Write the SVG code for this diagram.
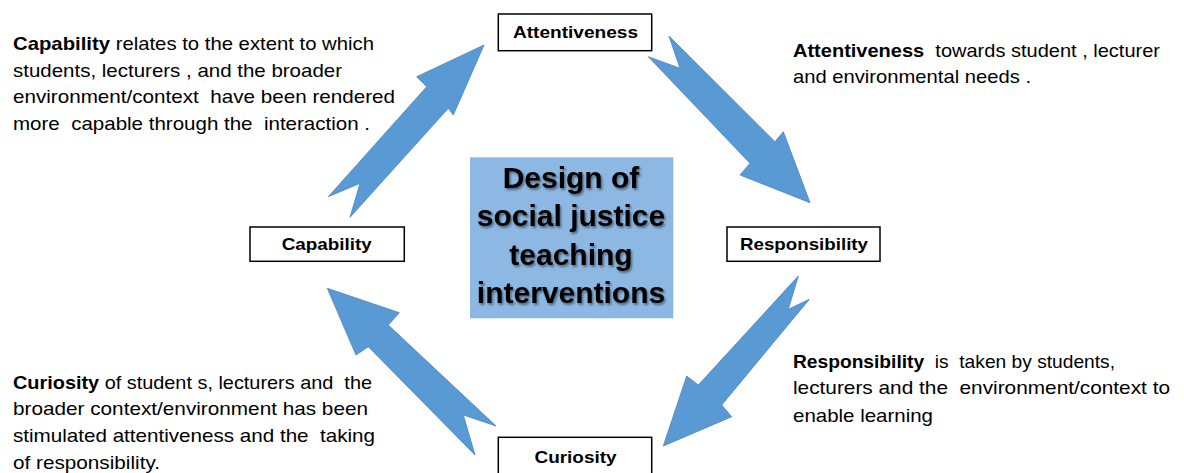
<svg xmlns="http://www.w3.org/2000/svg" width="1184" height="473" viewBox="0 0 1184 473">
  <style>
    .box { fill: #ffffff; stroke: #000000; stroke-width: 1.5; }
    .lbl { font-family: "Liberation Sans", Arial, sans-serif; font-weight: bold; font-size: 17px; fill: #000000; text-anchor: middle; }
    .note { font-family: "Liberation Sans", Arial, sans-serif; font-size: 19px; fill: #000000; white-space: pre; }
    .note .b { font-weight: bold; }
    .arrow { fill: #5A9AD4; stroke: #4A82BE; stroke-width: 0.8; stroke-linejoin: miter; }
    .center { fill: #8DB8E3; }
    .ctext { font-family: "Liberation Sans", Arial, sans-serif; font-weight: bold; font-size: 30px; fill: #000000; text-anchor: middle; }
  </style>
  <defs>
    <filter id="shadow" x="-10%" y="-20%" width="130%" height="150%">
      <feDropShadow dx="1.5" dy="2" stdDeviation="1.2" flood-color="#000000" flood-opacity="0.45"/>
    </filter>
  </defs>
  <rect width="1184" height="473" fill="#ffffff"/>

  <g id="connectors">
    <polygon class="arrow" points="328.3,196.7 426.7,86.7 416.7,76.7 484,45 453.3,115 448.3,108.3 350,217.3 360,183.3"/>
    <polygon class="arrow" points="669,36 775,141.7 783.3,131.7 810,202.7 740,175 750,163.3 648.3,56.7 680,68.3"/>
    <polygon class="arrow" points="798.3,276 788.3,309.3 809.3,299.3 721.7,405 731.7,416.7 663.3,446 686.7,376 698.3,385"/>
    <polygon class="arrow" points="327.3,288.3 399.3,312.7 388.3,325 496,426 463.3,415 475,455 368.3,346.7 356,355"/>
  </g>

  <g id="node-center">
    <rect class="center" x="470" y="157.3" width="203.3" height="161"/>
    <g filter="url(#shadow)">
      <text class="ctext" x="571" y="187.5">Design of</text>
      <text class="ctext" x="571" y="226">social justice</text>
      <text class="ctext" x="571" y="264.5">teaching</text>
      <text class="ctext" x="571" y="302.5">interventions</text>
    </g>
  </g>

  <g id="node-attentiveness">
    <rect class="box" x="498.3" y="14" width="153.4" height="36.7"/>
    <text class="lbl" x="575.5" y="38.3" textLength="125" lengthAdjust="spacingAndGlyphs">Attentiveness</text>
  </g>
  <g id="node-capability">
    <rect class="box" x="250" y="227" width="154.3" height="34.3"/>
    <text class="lbl" x="326.7" y="249.7" textLength="90" lengthAdjust="spacingAndGlyphs">Capability</text>
  </g>
  <g id="node-responsibility">
    <rect class="box" x="727" y="227" width="153" height="34.3"/>
    <text class="lbl" x="804" y="249.7" textLength="128" lengthAdjust="spacingAndGlyphs">Responsibility</text>
  </g>
  <g id="node-curiosity">
    <rect class="box" x="498.3" y="437.3" width="153.4" height="42"/>
    <text class="lbl" x="575.5" y="463.3" textLength="82" lengthAdjust="spacingAndGlyphs">Curiosity</text>
  </g>

  <g id="note-capability">
    <text class="note" x="13" y="50" textLength="361" lengthAdjust="spacingAndGlyphs"><tspan class="b">Capability</tspan> relates to the extent to which</text>
    <text class="note" x="13" y="76.5" textLength="329" lengthAdjust="spacingAndGlyphs">students, lecturers , and the broader</text>
    <text class="note" x="13" y="103" textLength="382" lengthAdjust="spacingAndGlyphs">environment/context  have been rendered</text>
    <text class="note" x="13" y="130" textLength="357" lengthAdjust="spacingAndGlyphs">more  capable through the  interaction .</text>
  </g>
  <g id="note-attentiveness">
    <text class="note" x="793" y="56.7" textLength="367" lengthAdjust="spacingAndGlyphs"><tspan class="b">Attentiveness</tspan>  towards student , lecturer</text>
    <text class="note" x="793" y="83.3" textLength="238" lengthAdjust="spacingAndGlyphs">and environmental needs .</text>
  </g>
  <g id="note-responsibility">
    <text class="note" x="793" y="367.7" textLength="322" lengthAdjust="spacingAndGlyphs"><tspan class="b">Responsibility</tspan>  is  taken by students,</text>
    <text class="note" x="793" y="394.3" textLength="377" lengthAdjust="spacingAndGlyphs">lecturers and the  environment/context to</text>
    <text class="note" x="793" y="421.7" textLength="140" lengthAdjust="spacingAndGlyphs">enable learning</text>
  </g>
  <g id="note-curiosity">
    <text class="note" x="13" y="388.5" textLength="359" lengthAdjust="spacingAndGlyphs"><tspan class="b">Curiosity</tspan> of student s, lecturers and  the</text>
    <text class="note" x="13" y="415" textLength="355" lengthAdjust="spacingAndGlyphs">broader context/environment has been</text>
    <text class="note" x="13" y="441.7" textLength="362" lengthAdjust="spacingAndGlyphs">stimulated attentiveness and the  taking</text>
    <text class="note" x="13" y="469" textLength="147" lengthAdjust="spacingAndGlyphs">of responsibility.</text>
  </g>
</svg>
